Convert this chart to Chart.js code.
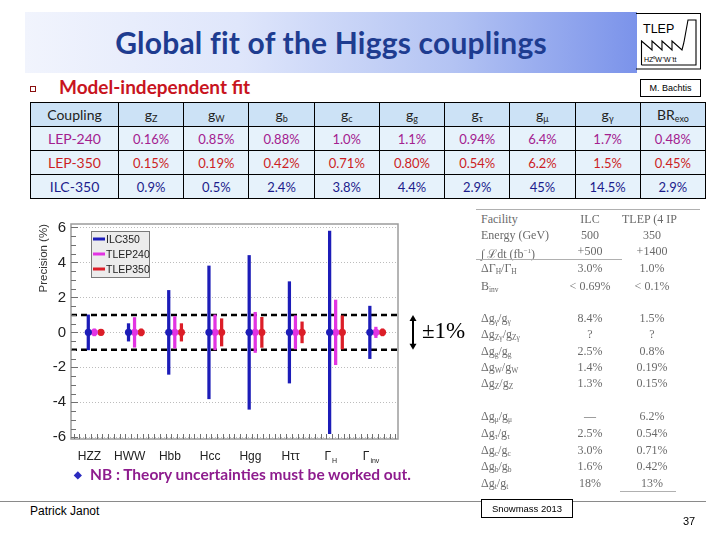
<!DOCTYPE html>
<html>
<head>
<meta charset="utf-8">
<script src="https://cdn.jsdelivr.net/npm/chart.js@4.4.0/dist/chart.umd.min.js"></script>
<style>
  body { margin: 0; background: #fff; }
  #slide { position: relative; width: 720px; height: 540px; overflow: hidden; font-family: Lato, "Open Sans", sans-serif; }
  .abs { position: absolute; }
  #banner { left: 25px; top: 12px; width: 612px; height: 61px;
    background: linear-gradient(to right, #f1f4fd 0%, #dfe6fb 35%, #b3c3f3 70%, #7b93ea 100%); }
  #title { left: 25px; top: 12px; width: 612px; height: 61px; line-height: 61px; text-align: center;
    color: #1e3c90; font-size: 30px; font-weight: bold; letter-spacing: 0.2px; }
  #bachtis { left: 640px; top: 79px; width: 59px; height: 16px; border: 1px solid #000;
    font-family: "Liberation Sans", Arial, sans-serif; font-size: 9px; line-height: 16px; text-align: center; }
  #bullet { left: 30px; top: 86px; width: 4px; height: 4px; border: 1.2px solid #8a1010; }
  #subtitle { left: 59px; top: 75px; color: #c8141e; font-size: 19px; font-weight: bold; }
  #coup { position: absolute; left: 30px; top: 102px; width: 676px; border-collapse: collapse; table-layout: fixed; }
  #coup td { border: 1px solid #000; height: 23px; text-align: center; background: #e6f2fb; padding: 0; font-size: 13px; }
  #coup tr.hdr td { background: #cce2f6; color: #222; font-size: 14px; }
  #coup sub { font-size: 9px; vertical-align: -2px; }
  #chartBox { left: 30px; top: 210px; width: 450px; height: 260px; }
  .rt { position: absolute; font-family: "Liberation Serif", "DejaVu Serif", serif; font-size: 12px; color: #6a6a6a; white-space: nowrap; line-height: 12px; }
  .rt sub { font-size: 7.5px; vertical-align: -2px; }
  .rl { position: absolute; height: 1px; background: #b0b0b0; }
  #nb { left: 74px; top: 465px; color: #8e1c8e; font-size: 15.5px; font-weight: bold; white-space: nowrap; }
  #nb span { color: #2b2bc0; font-size: 10px; margin-right: 8px; vertical-align: 2px; }
  #foot { left: 0; top: 501px; width: 706px; height: 1px; background: #8a8a8a; }
  #author { left: 30px; top: 504px; font-family: "Liberation Sans", Arial, sans-serif; font-size: 12px; }
  #snow { left: 481px; top: 499px; width: 90px; height: 17px; border: 1px solid #000; background: #fff;
    font-family: "Liberation Sans", Arial, sans-serif; font-size: 9.5px; line-height: 17px; text-align: center; }
  #page { left: 683px; top: 515px; font-family: "Liberation Sans", Arial, sans-serif; font-size: 11px; }
</style>
</head>
<body>
<div id="slide">
  <div id="banner" class="abs"></div>
  <div id="title" class="abs">Global fit of the Higgs couplings</div>
  <svg class="abs" style="left:636px;top:12px" width="66" height="60">
    <line x1="0" y1="1.5" x2="65" y2="1.5" stroke="#000" stroke-width="1"/>
    <line x1="64.5" y1="1.5" x2="64.5" y2="57" stroke="#000" stroke-width="1"/>
    <line x1="0" y1="57" x2="65" y2="57" stroke="#000" stroke-width="1"/>
    <text x="7" y="21" font-family="Liberation Sans, Arial" font-size="12.5">TLEP</text>
    <path d="M5.5,53 L60,53 L60,8 L52,8 L48,30" fill="none" stroke="#000" stroke-width="1.1"/>
    <path d="M5.5,53 L5.5,29 L16,38 L16,29 L26,38 L26,29 L36,38 L36,29 L46,38 L48,30" fill="none" stroke="#000" stroke-width="1.1"/>
    <text x="8" y="50" font-family="Liberation Sans, Arial" font-size="7">HZ⁰W⁺W⁻tt</text>
  </svg>
  <div id="bachtis" class="abs">M. Bachtis</div>
  <div id="bullet" class="abs"></div>
  <div id="subtitle" class="abs">Model-independent fit</div>
  <table id="coup"></table>
  <div id="chartBox" class="abs"><canvas id="chart"></canvas></div>
  <div id="rtable"></div>
  <div id="nb" class="abs"><span>◆</span>NB : Theory uncertainties must be worked out.</div>
  <div id="foot" class="abs"></div>
  <div id="author" class="abs">Patrick Janot</div>
  <div id="snow" class="abs">Snowmass 2013</div>
  <div id="page" class="abs">37</div>
</div>
<script>
  // Coupling table (top)
  const couplingSym = ['g', 'g', 'g', 'g', 'g', 'g', 'g', 'g', 'BR'];
  const couplingSub = ['Z', 'W', 'b', 'c', 'g', 'τ', 'μ', 'γ', 'exo'];
  const machines = ['LEP-240', 'LEP-350', 'ILC-350'];
  const lep240Row = ['0.16%', '0.85%', '0.88%', '1.0%', '1.1%', '0.94%', '6.4%', '1.7%', '0.48%'];
  const lep350Row = ['0.15%', '0.19%', '0.42%', '0.71%', '0.80%', '0.54%', '6.2%', '1.5%', '0.45%'];
  const ilc350Row = ['0.9%', '0.5%', '2.4%', '3.8%', '4.4%', '2.9%', '45%', '14.5%', '2.9%'];
  const machineColors = ['#a3208f', '#cc1e24', '#1c1c8c'];

  // Chart data: precision (%) on each quantity
  const catMain = ['HZZ', 'HWW', 'Hbb', 'Hcc', 'Hgg', 'Hττ', 'Γ', 'Γ'];
  const catSub = ['', '', '', '', '', '', 'H', 'inv'];
  const ilc350 = [1.0, 0.5, 2.4, 3.8, 4.4, 2.9, 5.8, 1.5];
  const tlep240 = [0.2, 0.85, 0.9, 1.0, 1.15, 0.95, 1.85, 0.3];
  const tlep350 = [0.15, 0.2, 0.5, 0.78, 0.86, 0.6, 0.95, 0.2];
  const seriesNames = ['ILC350', 'TLEP240', 'TLEP350'];
  const bandLevels = [1, -1];

  // Right-hand table
  const rtLabels = ['Facility', 'Energy (GeV)', '∫ ℒdt (fb<sup style="font-size:7px">−1</sup>)', 'ΔΓ<sub>H</sub>/Γ<sub>H</sub>', 'B<sub>inv</sub>',
    'Δg<sub>γ</sub>/g<sub>γ</sub>', 'Δg<sub>Zγ</sub>/g<sub>Zγ</sub>', 'Δg<sub>g</sub>/g<sub>g</sub>', 'Δg<sub>W</sub>/g<sub>W</sub>', 'Δg<sub>Z</sub>/g<sub>Z</sub>',
    'Δg<sub>μ</sub>/g<sub>μ</sub>', 'Δg<sub>τ</sub>/g<sub>τ</sub>', 'Δg<sub>c</sub>/g<sub>c</sub>', 'Δg<sub>b</sub>/g<sub>b</sub>', 'Δg<sub>t</sub>/g<sub>t</sub>'];
  const rtILC = ['ILC', '500', '+500', '3.0%', '&lt; 0.69%', '8.4%', '?', '2.5%', '1.4%', '1.3%', '—', '2.5%', '3.0%', '1.6%', '18%'];
  const rtTLEP = ['TLEP (4 IP', '350', '+1400', '1.0%', '&lt; 0.1%', '1.5%', '?', '0.8%', '0.19%', '0.15%', '6.2%', '0.54%', '0.71%', '0.42%', '13%'];
  const rtRowY = [219, 235, 251, 268, 286, 318, 334, 351, 367, 383, 416, 433, 450, 466, 483];

  // build coupling table
  const tbl = document.getElementById('coup');
  let html = '<colgroup><col style="width:88px">' + couplingSym.map(() => '<col>').join('') + '</colgroup>';
  html += '<tr class="hdr"><td>Coupling</td>' + couplingSym.map((s, i) => `<td>${s}<sub>${couplingSub[i]}</sub></td>`).join('') + '</tr>';
  [lep240Row, lep350Row, ilc350Row].forEach((row, r) => {
    const c = machineColors[r];
    html += `<tr><td style="color:${c};font-size:14px">${machines[r]}</td>` + row.map(v => `<td style="color:${c}">${v}</td>`).join('') + '</tr>';
  });
  tbl.innerHTML = html;

  // build right table
  const rt = document.getElementById('rtable');
  let rh = '';
  rtRowY.forEach((y, i) => {
    rh += `<div class="rt" style="left:481px;top:${y - 6}px">${rtLabels[i]}</div>`;
    rh += `<div class="rt" style="left:550px;width:80px;text-align:center;top:${y - 6}px">${rtILC[i]}</div>`;
    rh += `<div class="rt" style="left:${i === 0 ? 622 : 612}px;width:${i === 0 ? 90 : 80}px;text-align:${i === 0 ? 'left' : 'center'};top:${y - 6}px">${rtTLEP[i]}</div>`;
  });
  rh += '<div class="rl" style="left:476px;top:209px;width:224px"></div>';
  rh += '<div class="rl" style="left:476px;top:259px;width:146px"></div>';
  rh += '<div class="rl" style="left:620px;top:491px;width:56px"></div>';
  rt.innerHTML = rh;

  // chart
  const colors = ['#1c1cb8', '#e234e2', '#dc1e28'];
  const offsets = [0, 0.15, 0.315];
  const xMin = -0.43, xMax = 7.70;
  const seriesVals = [ilc350, tlep240, tlep350];

  const datasets = [];
  bandLevels.forEach(lv => {
    datasets.push({
      type: 'line', data: [{ x: xMin, y: lv }, { x: xMax, y: lv }],
      borderColor: '#000', borderWidth: 2.5, borderDash: [6, 4], pointRadius: 0, order: 10
    });
  });
  seriesVals.forEach((vals, s) => {
    datasets.push({
      type: 'bar', label: seriesNames[s],
      data: vals.map((e, i) => ({ x: i + offsets[s], y: [-e, e] })),
      backgroundColor: colors[s], borderWidth: 0, barThickness: 2.6, grouped: false, order: 5
    });
  });
  seriesVals.forEach((vals, s) => {
    datasets.push({
      type: 'scatter',
      data: vals.map((e, i) => ({ x: i + offsets[s], y: 0 })),
      backgroundColor: colors[s], borderWidth: 0, pointRadius: 3.6, order: 1
    });
  });

  const decor = {
    id: 'decor',
    afterDraw(chart) {
      const { ctx, chartArea: a, scales: { x, y } } = chart;
      ctx.save();
      // frame
      ctx.strokeStyle = '#9c9c9c';
      ctx.lineWidth = 1.5;
      ctx.strokeRect(a.left, a.top, a.right - a.left, a.bottom - a.top);
      // inward ticks
      ctx.strokeStyle = '#707070';
      ctx.lineWidth = 1;
      for (let v = -6; v <= 6.001; v += 0.5) {
        const py = Math.round(y.getPixelForValue(v)) + 0.5;
        ctx.beginPath();
        ctx.moveTo(a.left, py);
        ctx.lineTo(a.left + (Math.abs(v % 2) < 0.01 ? 7 : 5), py);
        ctx.stroke();
      }
      for (let v = -0.08 - 2 / 7; v <= xMax; v += 1 / 7) {
        if (v < xMin) continue;
        const px = Math.round(x.getPixelForValue(v)) + 0.5;
        ctx.beginPath();
        ctx.moveTo(px, a.bottom);
        ctx.lineTo(px, a.bottom - 5);
        ctx.stroke();
      }
      // category labels
      ctx.fillStyle = '#222';
      ctx.textBaseline = 'middle';
      catMain.forEach((m, i) => {
        const px = x.getPixelForValue(i + 0.03);
        ctx.font = '12px "Liberation Sans", Arial, sans-serif';
        const w1 = ctx.measureText(m).width;
        ctx.font = '7px "Liberation Sans", Arial, sans-serif';
        const w2 = catSub[i] ? ctx.measureText(catSub[i]).width + 1 : 0;
        const x0 = px - (w1 + w2) / 2;
        ctx.font = '12px "Liberation Sans", Arial, sans-serif';
        ctx.textAlign = 'left';
        ctx.fillText(m, x0, a.bottom + 18);
        if (catSub[i]) {
          ctx.font = '7px "Liberation Sans", Arial, sans-serif';
          ctx.fillText(catSub[i], x0 + w1 + 1, a.bottom + 22);
        }
      });
      // legend box
      const lx = a.left + 20, ly = a.top + 7;
      ctx.fillStyle = '#ececec';
      ctx.fillRect(lx, ly, 58, 46);
      ctx.strokeStyle = '#7a7a7a';
      ctx.lineWidth = 1;
      ctx.strokeRect(lx + 0.5, ly + 0.5, 58, 46);
      ctx.font = '10.5px "Liberation Sans", Arial, sans-serif';
      seriesNames.forEach((n, i) => {
        const yy = ly + 8 + i * 15;
        ctx.strokeStyle = colors[i];
        ctx.lineWidth = 3;
        ctx.beginPath();
        ctx.moveTo(lx + 2, yy);
        ctx.lineTo(lx + 14, yy);
        ctx.stroke();
        ctx.fillStyle = '#222';
        ctx.fillText(n, lx + 15, yy + 1);
      });
      // ±1% marker
      const ax = a.right + 15;
      const y1 = y.getPixelForValue(bandLevels[0]), y2 = y.getPixelForValue(bandLevels[1]);
      ctx.strokeStyle = '#000';
      ctx.fillStyle = '#000';
      ctx.lineWidth = 2;
      ctx.beginPath();
      ctx.moveTo(ax, y1 + 3);
      ctx.lineTo(ax, y2 - 3);
      ctx.stroke();
      [[y1, 1], [y2, -1]].forEach(([yy, d]) => {
        ctx.beginPath();
        ctx.moveTo(ax, yy);
        ctx.lineTo(ax - 3.5, yy + 6 * d);
        ctx.lineTo(ax + 3.5, yy + 6 * d);
        ctx.closePath();
        ctx.fill();
      });
      ctx.font = '23px "Liberation Serif", "Times New Roman", serif';
      ctx.textAlign = 'left';
      ctx.fillText('±1%', ax + 9, (y1 + y2) / 2);
      ctx.restore();
    }
  };

  new Chart(document.getElementById('chart'), {
    type: 'bar',
    data: { datasets: datasets },
    plugins: [decor],
    options: {
      responsive: true,
      maintainAspectRatio: false,
      animation: false,
      layout: { padding: { top: 8, right: 82, left: 0, bottom: 0 } },
      plugins: { legend: { display: false }, tooltip: { enabled: false } },
      scales: {
        x: {
          type: 'linear', min: xMin, max: xMax, offset: false,
          ticks: { display: false },
          grid: { display: false, drawTicks: false },
          border: { display: false },
          afterFit: s => { s.height = 31; }
        },
        y: {
          min: -6.1, max: 6.2,
          afterBuildTicks: s => { s.ticks = [-6, -4, -2, 0, 2, 4, 6].map(v => ({ value: v })); },
          ticks: { color: '#222', font: { family: '"Liberation Sans", Arial, sans-serif', size: 15 }, padding: 5 },
          grid: { color: '#bcbcbc', lineWidth: 1, drawTicks: false },
          border: { display: false, dash: [1, 2] },
          title: { display: true, text: 'Precision (%)', align: 'end', color: '#333',
            font: { family: '"Liberation Sans", Arial, sans-serif', size: 11.5 }, padding: { top: 7, bottom: 2 } },
          afterFit: s => { s.width = 41; }
        }
      }
    }
  });
</script>
</body>
</html>
